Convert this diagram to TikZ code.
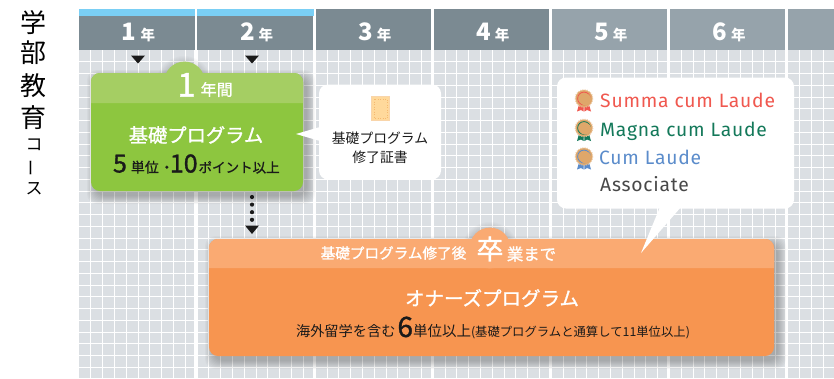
\documentclass[tikz,border=0pt]{standalone}
\usepackage{fontspec}
\usetikzlibrary{arrows.meta}
\setmainfont{Noto Sans CJK JP}
\newfontfamily\jpm[FakeBold=1.2]{Noto Sans CJK JP}
\newfontfamily\lat[LetterSpace=4]{Fira Sans}
\newcommand\fz[1]{\fontsize{#1}{#1}\selectfont}
\definecolor{gridbg}{HTML}{DBDFE3}
\definecolor{hdark}{HTML}{7B8A92}
\definecolor{hlight}{HTML}{96A3AB}
\definecolor{skyband}{HTML}{7ACFF5}
\definecolor{grn}{HTML}{8DC63F}
\definecolor{grnb}{HTML}{A5CE63}
\definecolor{org}{HTML}{F79550}
\definecolor{orgb}{HTML}{FAAA72}
\definecolor{ink}{HTML}{1A1A1A}
\definecolor{medal}{HTML}{DFA76A}
\definecolor{redt}{HTML}{F0584F}
\definecolor{grnt}{HTML}{14795A}
\definecolor{blut}{HTML}{5B8CCB}
\definecolor{peach}{HTML}{FFD99B}
\definecolor{peachd}{HTML}{F5B971}
\tikzset{
  lbl/.style={inner sep=0pt,align=center},
  yearhead/.style={inner sep=0pt,minimum width=115.3pt,minimum height=34pt,text=white,font=\bfseries},
  progbox/.style={inner sep=0pt,rounded corners=9pt},
  callout/.style={inner sep=0pt,fill=white,rounded corners=9pt},
  marker/.style={fill=ink,draw=none},
  base/.style={inner sep=0pt,anchor=base west}
}
\begin{document}
\begin{tikzpicture}[x=1pt,y=-1pt]
\useasboundingbox (0,0) rectangle (834,378);
\fill[white] (0,0) rectangle (834,378);
% grid
\fill[gridbg] (79,50) rectangle (834,378);
\begin{scope}
\foreach \k in {1,...,63} \draw[white,line width=1pt] ({79+11.81*\k},50) -- ({79+11.81*\k},378);
\foreach \k in {1,...,28} \draw[white,line width=1pt] (79,{50+11.75*\k}) -- (834,{50+11.75*\k});
\foreach \k in {1,...,6} \draw[white,line width=2.6pt] ({77.6+118.1*\k},9) -- ({77.6+118.1*\k},378);
\end{scope}
% headers
\foreach \n/\x/\c in {1/137/hdark,2/255.1/hdark,3/373.2/hdark,4/491.3/hdark,5/609.4/hlight,6/727.5/hlight}{
  \node[yearhead,fill=\c] (y\n) at (\x,33) {};
  \node[lbl,text=white] (yt\n) at (\x+1.5,32) {\bfseries\fz{24}\n\hspace{4pt}\fz{14.5}年};
}
\fill[hlight] (788,9) rectangle (834,50);
\fill[hlight] (552,9) rectangle (667,16);
\fill[hlight] (670,9) rectangle (785,16);
\fill[hdark] (316,9) rectangle (431,16);
\fill[hdark] (434,9) rectangle (549,16);
\fill[skyband] (79,9) rectangle (194.5,16);
\fill[skyband] (197.2,9) rectangle (313.5,16);
% left title
\node[lbl] (t1) at (33,22.5) {\fz{26}学};
\node[lbl] (t2) at (33,52.5) {\fz{26}部};
\node[lbl] (t3) at (33,85.5) {\fz{26}教};
\node[lbl] (t4) at (33,117.5) {\fz{26}育};
\node[lbl] (t5) at (34,145) {\fz{17}コ};
\node[lbl,rotate=90] (t6) at (34,168) {\fz{17}ー};
\node[lbl] (t7) at (34,189) {\fz{17}ス};
% year markers
\fill[marker] (131,55.5) -- (145,55.5) -- (138,63.5) -- cycle;
\fill[marker] (245,55.5) -- (259,55.5) -- (252,63.5) -- cycle;
% shadows
\foreach \e in {0,1,...,8}{
  \fill[black,opacity=.028,rounded corners=10pt] ({91+4-\e},{73+5-\e}) rectangle ({303+4+\e},{191+5+\e});
  \fill[black,opacity=.028,rounded corners=10pt] ({209+4-\e},{239+5-\e}) rectangle ({774+4+\e},{356+5+\e});
  \fill[black,opacity=.015] (184,84) circle ({20+\e});
  \fill[black,opacity=.015] (490,250) circle ({20+\e});
}
% green box
\node[progbox,fill=grn,minimum width=212pt,minimum height=118pt] (basic) at (197,132) {};
\fill[grnb] (91,103) [rounded corners=9pt] -- (91,73) -- (303,73) [sharp corners] -- (303,103) -- cycle;
\fill[grnb] (184.5,82) circle (20.4);
\node[lbl,text=white] (basicyr) at (205,85) {\jpm\fz{33}1\hspace{5pt}\raisebox{1pt}{\fz{16}年間}};
\node[lbl,text=white] (basicname) at (196,135) {\jpm\fz{19.3}基礎プログラム};
\node[lbl,text=ink] (basicreq) at (196.3,164) {\jpm\fz{25}5\hspace{4pt}\fz{14}単位\hspace{1pt}・\hspace{-4pt}\fz{25}10\hspace{1pt}\fz{13.5}ポイント以上};
% certificate callout
\fill[white] (320,127) -- (296,134) -- (320,141) -- cycle;
\node[callout,minimum width=122pt,minimum height=95pt] (cert) at (380,132) {};
\filldraw[fill=peach,draw=peachd!60,line width=.8pt] (371.5,96.5) rectangle (389.5,120.5);
\draw[peachd,line width=.5pt,dotted] (374,99) rectangle (387,118);
\node[lbl,text=ink] (certa) at (380,138) {\fz{13.8}基礎プログラム};
\node[lbl,text=ink] (certb) at (380,157) {\fz{13.8}修了証書};
% orange box
\node[progbox,fill=org,minimum width=565pt,minimum height=117pt] (honors) at (491.5,297.5) {};
\fill[orgb] (209,268) [rounded corners=9pt] -- (209,239) -- (774,239) [sharp corners] -- (774,268) -- cycle;
\fill[orgb] (490,248) circle (20.4);
% laude callout
\node[callout,minimum width=237pt,minimum height=131pt] (laude) at (675.5,143) {};
\fill[white] (660,207) -- (641,253) -- (681,207) -- cycle;
\foreach \nm/\y/\c in {a/98.5/redt,b/128/grnt,c/156.5/blut}{
  \fill[\c] (579,\y+6) -- (577,\y+13) -- (581,\y+11.5) -- (583.5,\y+13) -- (584,\y+6) -- cycle;
  \fill[\c] (589,\y+6) -- (591,\y+13) -- (587,\y+11.5) -- (584.5,\y+13) -- (584,\y+6) -- cycle;
  \fill[medal] (584,\y) circle (8.6);
  \draw[medal!60!white,line width=1.1pt,dash pattern=on 1pt off 1.2pt] (584,\y) circle (8.8);
  \draw[\c,line width=.8pt] (584,\y) circle (6.4);
  \fill[medal] (585.2,\y+.8) circle (5.9);
}
\node[base,text=redt] (la) at (600,107) {\lat\fz{19.3}Summa cum Laude};
\node[base,text=grnt] (lb) at (600,136) {\lat\fz{19.3}Magna cum Laude};
\node[base,text=blut] (lc) at (599,164) {\lat\fz{19.3}Cum Laude};
\node[base,text=ink!80] (ld) at (600,191) {\lat\fz{19.3}Associate};
% orange text
\node[lbl,text=white] (hona) at (393.5,253) {\jpm\fz{14.6}基礎プログラム修了後};
\node[lbl,text=white] (honb) at (490,249) {\jpm\fz{27}卒};
\node[lbl,text=white] (honc) at (531.5,254) {\jpm\fz{16.4}業まで};
\node[lbl,text=white] (hond) at (492,298) {\jpm\fz{19.5}オナーズプログラム};
\node[lbl,text=ink] (hone) at (493,328) {\fz{14.2}海外留学を含む\hspace{2pt}\jpm\fz{28}6\normalfont\fz{14.5}単位以上\fz{12.35}(基礎プログラムと通算して11単位以上)};
% connector
\coordinate (dotstart) at (252,191);
\coordinate (dotend) at (252,234);
\draw[ink,line width=4.2pt,line cap=round,dash pattern=on 0pt off 7.6pt,dash phase=1.6pt] (dotstart) -- (252,224);
\fill[marker] (245,225.5) -- (259,225.5) -- (dotend) -- cycle;
\end{tikzpicture}
\end{document}
